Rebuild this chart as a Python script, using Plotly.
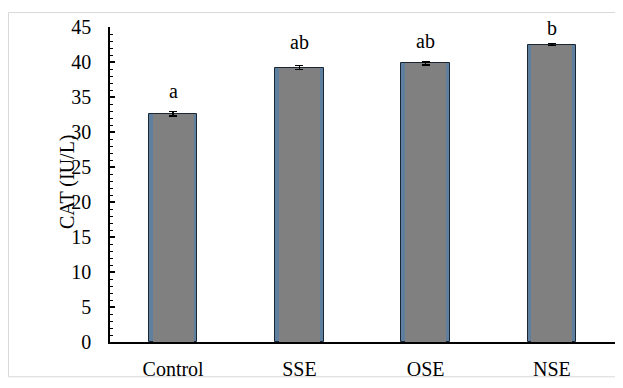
import plotly.graph_objects as go

categories = ["Control", "SSE", "OSE", "NSE"]
values = [32.6, 39.2, 39.8, 42.5]
errors = [0.3, 0.3, 0.2, 0.15]
letters = ["a", "ab", "ab", "b"]
letter_y = [35.9, 42.8, 43.0, 44.8]
y_ticks = [0, 5, 10, 15, 20, 25, 30, 35, 40, 45]
y_title = "CAT (IU/L)"

# page body has an 8px margin, so the figure is sized to the visible area
W, H = 615, 380
ML, MR, MT, MB = 102, 8, 18, 36
FONT = "Liberation Serif"

fig = go.Figure()
fig.add_trace(go.Bar(
    x=categories, y=values, width=0.385,
    marker=dict(color="#5f7f9f", line=dict(color="#1a2633", width=1)),
    hoverinfo="skip", showlegend=False,
))
fig.add_trace(go.Bar(
    x=categories, y=values, width=0.325,
    marker=dict(color="#808080", line=dict(width=0)),
    error_y=dict(type="data", array=errors, visible=True, color="black",
                 thickness=1.5, width=4),
    showlegend=False,
))

for c, t, ly in zip(categories, letters, letter_y):
    fig.add_annotation(x=c, y=ly, text=t, showarrow=False, yanchor="middle",
                       font=dict(family=FONT, size=20, color="black"))

pw = W - ML - MR
ph = H - MT - MB

# y-axis title as a rotated annotation
fig.add_annotation(xref="paper", yref="paper",
                   x=(73 - ML) / pw, y=(H - MB - 178) / ph,
                   text=y_title, textangle=-90, showarrow=False,
                   xanchor="right", yanchor="middle",
                   font=dict(family=FONT, size=20, color="black"))

bx0, by0, bx1, by1 = 0.5, 3, 614, 380
fig.add_shape(type="rect", xref="paper", yref="paper",
              x0=(bx0 - ML) / pw, x1=(bx1 - ML) / pw,
              y0=(H - MB - by1) / ph, y1=(H - MB - by0) / ph,
              line=dict(color="#d9d9d9", width=1), layer="below")

fig.update_layout(
    width=W, height=H,
    margin=dict(l=ML, r=MR, t=MT, b=MB, pad=0),
    paper_bgcolor="white", plot_bgcolor="white",
    barmode="overlay", bargap=0,
    font=dict(family=FONT, color="black"),
    xaxis=dict(
        type="category", range=[-0.5, 3.5],
        showline=True, linecolor="black", linewidth=2,
        ticks="", showgrid=False, zeroline=False,
        tickfont=dict(family=FONT, size=20, color="black"),
        ticklabelstandoff=8,
    ),
    yaxis=dict(
        range=[0, 45], tickvals=y_ticks,
        showline=True, linecolor="black", linewidth=1.5,
        ticks="inside", ticklen=5, tickwidth=1.5, tickcolor="black",
        minor=dict(dtick=1, ticks="inside", ticklen=3, tickwidth=1, tickcolor="black"),
        showgrid=False, zeroline=False,
        tickfont=dict(family=FONT, size=20, color="black"),
        ticklabelstandoff=13,
    ),
)

fig.write_html("out.html")
